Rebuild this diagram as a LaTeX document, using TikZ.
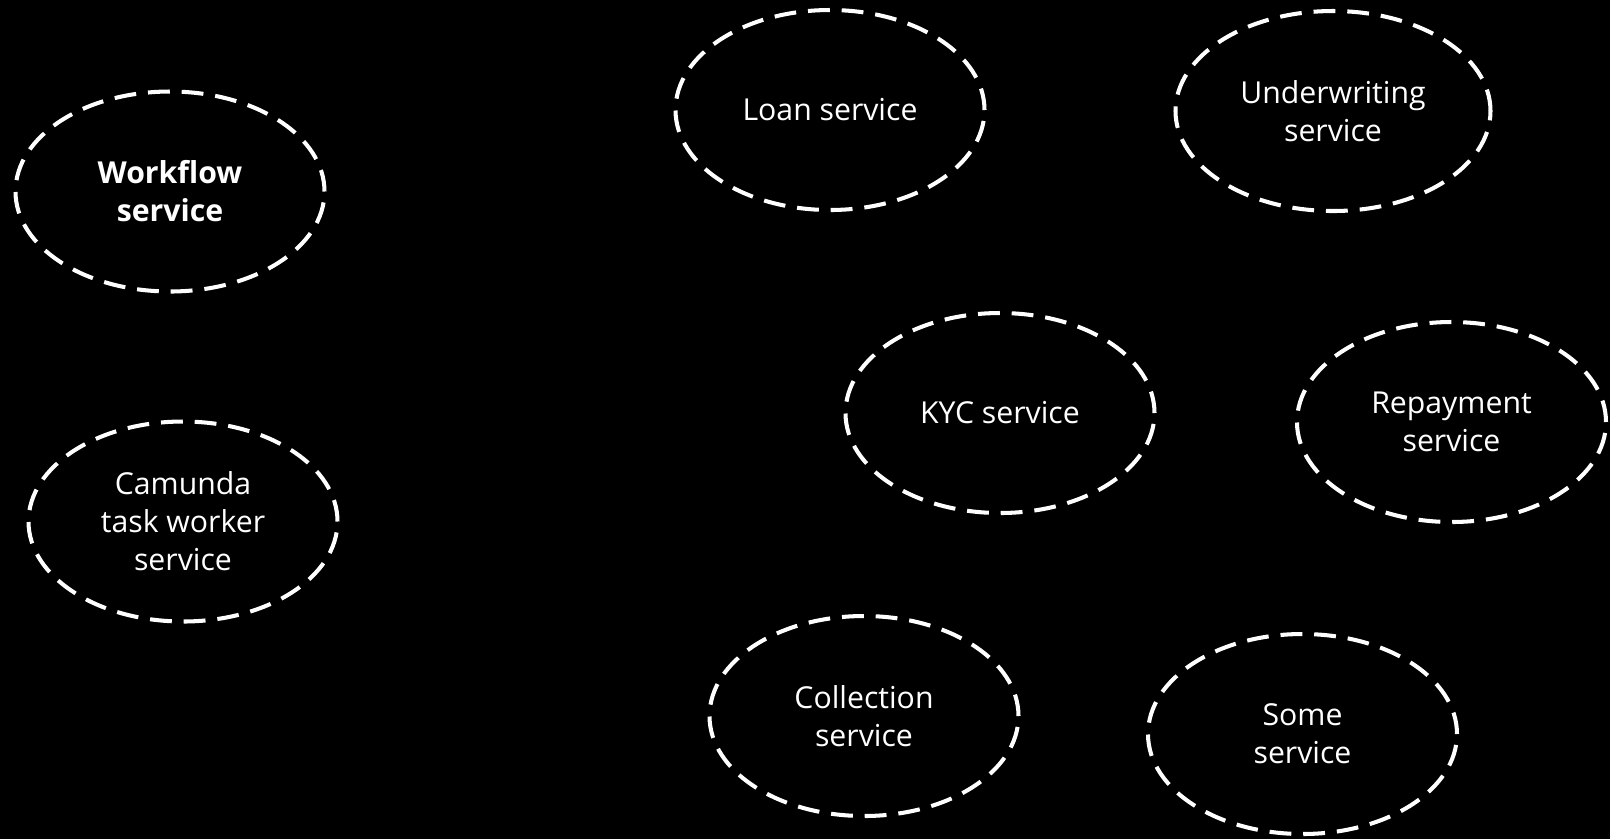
\documentclass[tikz,border=0pt]{standalone}
\usepackage{fontspec}
\setmainfont{Open Sans}
\usepackage{tikz}
\usetikzlibrary{shapes.geometric}

\begin{document}
\begin{tikzpicture}[
		every node/.style={
			ellipse,
			draw=white,
			text=white,
			line width=1.15pt,
			dash pattern=on 6.2pt off 3.4pt,
			align=center,
			inner sep=0pt,
			minimum width=3.09cm,
			minimum height=2.0cm,
			font=\fontsize{8.6}{10.8}\selectfont
		}
		]
		
		\fill[black] (0,0) rectangle (16.10,-8.39);
		\useasboundingbox (0,0) rectangle (16.10,-8.39);
		
		\node (wf) at (1.70,-1.915) {\textbf{Workflow}\\ \textbf{service}};
		
		\node (cw) at (1.83,-5.215) {Camunda\\ task worker\\ service};
		
		\node (loan) at (8.30,-1.10) {Loan service};
		
		\node (uw) [minimum width=3.15cm] at (13.33,-1.11) {Underwriting\\ service};
		
		\node (kyc) at (10.00,-4.13) {KYC service};
		
		\node (rp) at (14.515,-4.22) {Repayment\\ service};
		
		\node (col) at (8.64,-7.16) {Collection\\ service};
		
		\node (some) at (13.025,-7.34) {Some\\ service};
		
	\end{tikzpicture}
\end{document}
